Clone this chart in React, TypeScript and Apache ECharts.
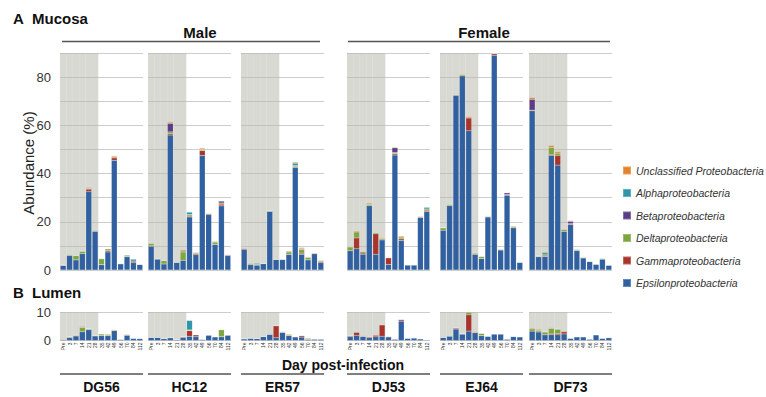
import React, { useEffect, useRef } from "react";
import * as echarts from "echarts";

const days = ["Pre", "3", "7", "14", "21", "28", "35", "42", "49", "56", "70", "84", "112"];
const shadedDayCount = 6;
const animals = ["DG56", "HC12", "ER57", "DJ53", "EJ64", "DF73"];
// stacking order bottom -> top
const taxa = [
  "Epsilonproteobacteria",
  "Gammaproteobacteria",
  "Deltaproteobacteria",
  "Betaproteobacteria",
  "Alphaproteobacteria",
  "Unclassified Proteobacteria",
];
const taxaColors = ["#30609f", "#a9342c", "#7da63f", "#5b3d87", "#2d96aa", "#e4822c"];
const legendOrder = [
  "Unclassified Proteobacteria",
  "Alphaproteobacteria",
  "Betaproteobacteria",
  "Deltaproteobacteria",
  "Gammaproteobacteria",
  "Epsilonproteobacteria",
];

// each row: [Epsilon, Gamma, Delta, Beta, Alpha, Unclassified]
const mucosaDG56 = [
  [2, 0, 0, 0, 0, 0], [6, 0, 0.5, 0, 0, 0], [4.2, 0, 1.8, 0, 0, 0], [6.8, 0, 1, 0, 0, 0],
  [32.5, 1, 0.4, 0, 0, 0.3], [16, 0, 0.5, 0, 0, 0], [2.2, 0, 2.5, 0, 0, 0], [7.5, 0.6, 0.7, 0, 0, 0],
  [45.5, 1, 0.5, 0, 0, 0.4], [2.6, 0, 0, 0, 0, 0], [5.5, 0, 0.7, 0, 0, 0], [3, 0.7, 0, 0, 0.8, 0],
  [2.3, 0, 0, 0, 0, 0],
];
const mucosaHC12 = [
  [9.8, 0.3, 1, 0, 0, 0], [4.5, 0, 0.3, 0, 0, 0], [2.5, 0, 1.4, 0, 0, 0], [56, 0.5, 0.8, 3.5, 0, 0.5],
  [3.2, 0, 0, 0, 0, 0], [4, 0, 3.5, 0, 0.4, 0.5], [22, 0.4, 0.6, 0, 1, 0], [6.3, 0.5, 0.5, 0, 0, 0],
  [47.5, 2, 0.5, 0, 0, 0.5], [23, 0.4, 0, 0, 0, 0], [10.6, 0, 1, 0, 0, 0.3], [26.6, 0.7, 0.5, 0.8, 0, 0],
  [6, 0.3, 0, 0, 0, 0.2],
];
const mucosaER57 = [
  [8.5, 0.5, 0, 0, 0, 0], [2.2, 0, 0.6, 0, 0, 0], [2, 0, 0.4, 0, 0.4, 0], [2.6, 0, 0.2, 0, 0, 0],
  [24.3, 0, 0.3, 0, 0, 0], [4.4, 0, 0, 0, 0, 0], [4.4, 0, 0, 0, 0, 0], [6.5, 0, 1, 0, 0, 0.4],
  [42.5, 0.3, 0.5, 0, 1, 0.4], [6.5, 0.5, 1.5, 0, 0.3, 0.5], [4.2, 0, 1, 0, 0, 0.3], [6.8, 0, 0, 0, 0, 0.3],
  [3, 0.5, 0.5, 0, 0, 0],
];
const mucosaDJ53 = [
  [8, 0, 1.6, 0, 0, 0], [8.8, 4.5, 2.5, 0, 0, 0.4], [6.5, 0.5, 0.7, 0, 0, 0.2], [26.7, 0, 0.6, 0, 0, 0.4],
  [6.5, 8.5, 0.6, 0, 0, 0], [12.5, 0, 0.6, 0, 0, 0.3], [2.3, 2.8, 0, 0, 0, 0], [47.7, 0.5, 0.5, 2, 0, 0.3],
  [12.2, 0.7, 0.8, 0, 0, 0.4], [2.1, 0, 0, 0, 0, 0], [2.1, 0, 0, 0, 0, 0], [21.8, 0, 0.4, 0, 0, 0.2],
  [24.2, 0.6, 0.5, 0, 0.7, 0],
];
const mucosaEJ64 = [
  [16.5, 0, 1, 0, 0, 0], [26.7, 0, 0.5, 0, 0, 0.2], [72.5, 0, 0.3, 0, 0, 0.2], [80.5, 0, 0.5, 0, 0, 0.3],
  [57.8, 5.3, 0, 0, 0, 0.5], [6.5, 0, 0.5, 0, 0, 0.2], [4.8, 0, 0.8, 0, 0, 0.2], [22, 0, 0.3, 0, 0, 0.2],
  [89, 0.7, 0, 0, 0, 0.2], [8.3, 0, 0.3, 0, 0, 0.2], [31, 0.3, 0, 0.7, 0, 0.2], [17.5, 0, 0.5, 0, 0, 0.3],
  [3.2, 0, 0, 0, 0, 0],
];
const mucosaDF73 = [
  [66, 0.3, 0, 4.5, 0, 0.7], [5.5, 0, 0.3, 0, 0, 0.1], [5.5, 0.3, 0.5, 0, 0.8, 0.4], [47.5, 0.4, 3, 0, 0, 0.7],
  [43.5, 4, 1, 0, 0, 0.6], [16, 0, 0.8, 0, 0, 0.3], [18.8, 0.4, 0, 1, 0, 0.3], [8, 0, 0.5, 0, 0, 0.2],
  [5, 0, 0.3, 0, 0, 0.2], [3.5, 0, 0, 0, 0, 0.2], [2.4, 0, 0, 0, 0, 0], [4.5, 0, 0.3, 0, 0, 0],
  [2, 0, 0, 0, 0, 0],
];

const lumenDG56 = [
  [0.3, 0, 0, 0, 0, 0.2], [1, 0, 0.3, 0, 0, 0], [1.6, 0, 0.3, 0, 0, 0], [3.1, 0, 1.5, 0, 0, 0.3],
  [3.8, 0, 0.3, 0, 0, 0.1], [1.6, 0, 0.2, 0, 0, 0], [1.7, 0, 0.6, 0, 0, 0.1], [1.7, 0, 0.5, 0, 0, 0.1],
  [3.5, 0, 0, 0, 0, 0.3], [0.4, 0, 0, 0, 0, 0], [1.9, 0, 0, 0, 0, 0.2], [0.8, 0, 0, 0, 0, 0],
  [0.7, 0, 0, 0, 0, 0],
];
const lumenHC12 = [
  [1.1, 0, 0, 0, 0, 0], [1.1, 0, 0, 0, 0, 0], [0.7, 0, 0, 0, 0, 0], [1, 0, 0, 0, 0, 0],
  [0.3, 0, 0, 0, 0, 0], [1, 0.3, 0, 0, 0, 0], [1.5, 1.9, 0.3, 0, 3.3, 0.2], [1.3, 0.7, 0, 0, 0, 0.1],
  [0.4, 0, 0, 0, 0, 0], [1.9, 0, 0, 0, 0, 0], [1.3, 0, 0, 0, 0, 0], [1.3, 0, 2.5, 0, 0, 0.1],
  [1.9, 0, 0, 0, 0, 0],
];
const lumenER57 = [
  [0.6, 0, 0, 0, 0, 0], [0.8, 0, 0, 0, 0, 0], [0.7, 0, 0, 0, 0, 0], [1.4, 0, 0, 0, 0, 0],
  [2.2, 0, 0, 0, 0, 0.2], [1, 4.2, 0, 0, 0, 0], [2.9, 0, 0, 0, 0, 0.2], [1.7, 0, 0.3, 0, 0, 0.3],
  [1.3, 0, 0, 0, 0, 0], [1.2, 0.5, 0, 0, 0, 0], [0.4, 0, 0.4, 0, 0, 0], [0.5, 0, 0, 0, 0, 0],
  [0.5, 0, 0, 0, 0, 0],
];
const lumenDJ53 = [
  [1.3, 0.3, 0.2, 0, 0, 0], [1.8, 1, 0.4, 0, 0, 0], [1.5, 0, 0, 0, 0, 0.2], [1, 0.3, 0, 0, 0, 0.2],
  [1.3, 0.6, 0, 0, 0, 0.2], [1.5, 4, 0, 0, 0, 0.2], [1.3, 0, 0, 0, 0, 0.2], [0.5, 0, 0, 0, 0, 0],
  [6.8, 0.5, 0, 0, 0, 0.2], [0.8, 0, 0, 0, 0, 0], [0.9, 0, 0, 0, 0, 0], [0.6, 0, 0, 0, 0, 0],
  [0.25, 0, 0, 0, 0, 0],
];
const lumenEJ64 = [
  [1.1, 0, 0, 0, 0, 0], [1.5, 0, 0.3, 0, 0, 0], [4, 0.4, 0, 0, 0, 0], [2.3, 0, 0, 0, 0, 0],
  [3.3, 5.7, 1, 0, 0, 0], [2.8, 0, 0, 0, 0, 0.3], [1.7, 0, 0.8, 0, 0, 0], [1.5, 0, 0, 0, 0, 0],
  [2.3, 0, 0, 0, 0, 0], [2.3, 0, 0, 0, 0, 0], [0.5, 0, 0, 0, 0, 0], [1.4, 0, 0, 0, 0, 0],
  [1.3, 0, 0, 0, 0, 0],
];
const lumenDF73 = [
  [3.3, 0, 0.8, 0, 0, 0.3], [3, 0, 0.6, 0, 0, 0.3], [2, 0, 1, 0, 0, 0.1], [2, 0.3, 2, 0, 0, 0.2],
  [2, 0.4, 1.6, 0, 0, 0], [2.3, 0.8, 0, 0, 0, 0.3], [0.8, 0, 0, 0, 0, 0], [1.3, 0, 0, 0, 0, 0],
  [1.3, 0, 0, 0, 0, 0], [0.5, 0, 0, 0, 0, 0], [2, 0, 0, 0, 0, 0], [0.8, 0, 0, 0, 0, 0],
  [1, 0, 0, 0, 0, 0],
];

const mucosaData = [mucosaDG56, mucosaHC12, mucosaER57, mucosaDJ53, mucosaEJ64, mucosaDF73];
const lumenData = [lumenDG56, lumenHC12, lumenER57, lumenDJ53, lumenEJ64, lumenDF73];

const FONT = "'Liberation Sans', Arial, Helvetica, sans-serif";

function buildOption() {
  const panelLeft = [60, 148, 241, 347, 440, 529];
  const panelWidth = 83;
  const grid: any[] = [];
  const xAxis: any[] = [];
  const yAxis: any[] = [];
  const series: any[] = [];

  const sections = [
    { data: mucosaData, top: 53, height: 217, max: 90, lumen: false },
    { data: lumenData, top: 312, height: 28.5, max: 10, lumen: true },
  ];

  let g = 0;
  sections.forEach((sec) => {
    for (let p = 0; p < animals.length; p++) {
      grid.push({ left: panelLeft[p], top: sec.top, width: panelWidth, height: sec.height, containLabel: false });
      xAxis.push({
        type: "category",
        gridIndex: g,
        data: days,
        axisLine: { show: false },
        axisTick: { show: false },
        axisLabel: sec.lumen
          ? { show: true, rotate: 90, fontSize: 5, interval: 0, margin: 2, color: "#333", fontFamily: FONT }
          : { show: false },
      });
      xAxis.push({ type: "category", gridIndex: g, data: days, show: false });
      yAxis.push({
        type: "value",
        gridIndex: g,
        min: 0,
        max: sec.max,
        interval: 10,
        axisLine: { show: false },
        axisTick: { show: false },
        splitLine: { show: true, lineStyle: { color: "#cdcdcd", width: 1 } },
        axisLabel: {
          show: p === 0,
          fontSize: 13,
          color: "#333",
          fontFamily: FONT,
          margin: 9,
          formatter: (v: number) => (sec.lumen ? String(v) : v % 20 === 0 ? String(v) : ""),
        },
      });
      series.push({
        type: "bar",
        xAxisIndex: 2 * g + 1,
        yAxisIndex: g,
        barWidth: "100%",
        silent: true,
        z: 1,
        itemStyle: { color: "rgba(185,185,176,0.55)" },
        data: days.map((_, j) => (j < shadedDayCount ? sec.max : "-")),
      });
      const rows = sec.data[p];
      taxa.forEach((name, t) => {
        series.push({
          type: "bar",
          name,
          stack: "s" + g,
          xAxisIndex: 2 * g,
          yAxisIndex: g,
          barCategoryGap: "10%",
          z: 2,
          itemStyle: { color: taxaColors[t], borderColor: "rgba(255,255,255,0.25)", borderWidth: 0.4 },
          data: rows.map((r) => r[t]),
        });
      });
      g++;
    }
  });

  const txt = (x: number, y: number, text: string, size: number, extra: any = {}) => ({
    type: "text",
    x,
    y,
    style: {
      text,
      font: `bold ${size}px ${FONT}`,
      fill: "#111",
      textAlign: "left",
      textVerticalAlign: "middle",
      ...extra,
    },
  });
  const hline = (x1: number, x2: number, y: number) => ({
    type: "line",
    shape: { x1, y1: y, x2, y2: y },
    style: { stroke: "#555", lineWidth: 1.5 },
  });

  const graphic: any[] = [
    txt(13, 18, "A", 15),
    txt(32, 18, "Mucosa", 15),
    txt(200, 32, "Male", 15, { textAlign: "center" }),
    hline(62, 320, 41.5),
    txt(484, 32, "Female", 15, { textAlign: "center" }),
    hline(348, 610, 41.5),
    txt(13, 292, "B", 15),
    txt(32, 292, "Lumen", 15),
    txt(343, 365, "Day post-infection", 14, { textAlign: "center" }),
    {
      type: "text",
      x: 28,
      y: 163,
      rotation: Math.PI / 2,
      style: {
        text: "Abundance (%)",
        font: `15px ${FONT}`,
        fill: "#222",
        textAlign: "center",
        textVerticalAlign: "middle",
      },
    },
  ];
  animals.forEach((a, p) => {
    graphic.push(hline(panelLeft[p], panelLeft[p] + panelWidth, 374));
    graphic.push(txt(panelLeft[p] + panelWidth / 2, 387, a, 14, { textAlign: "center" }));
  });

  return {
    animation: false,
    backgroundColor: "#ffffff",
    grid,
    xAxis,
    yAxis,
    series,
    graphic,
    legend: {
      orient: "vertical",
      left: 617,
      top: 160,
      itemWidth: 8,
      itemHeight: 8,
      itemGap: 11.5,
      icon: "rect",
      selectedMode: false,
      data: legendOrder,
      textStyle: { fontStyle: "italic", fontSize: 10.5, color: "#333", fontFamily: FONT },
    },
  };
}

export default function App() {
  const ref = useRef<HTMLDivElement>(null);
  useEffect(() => {
    if (!ref.current) return;
    const chart = echarts.init(ref.current, undefined, { renderer: "svg" });
    chart.setOption(buildOption() as any);
    return () => chart.dispose();
  }, []);
  return (
    <div
      ref={ref}
      style={{ position: "fixed", left: 0, top: 0, width: 766, height: 397, background: "#fff" }}
    />
  );
}
